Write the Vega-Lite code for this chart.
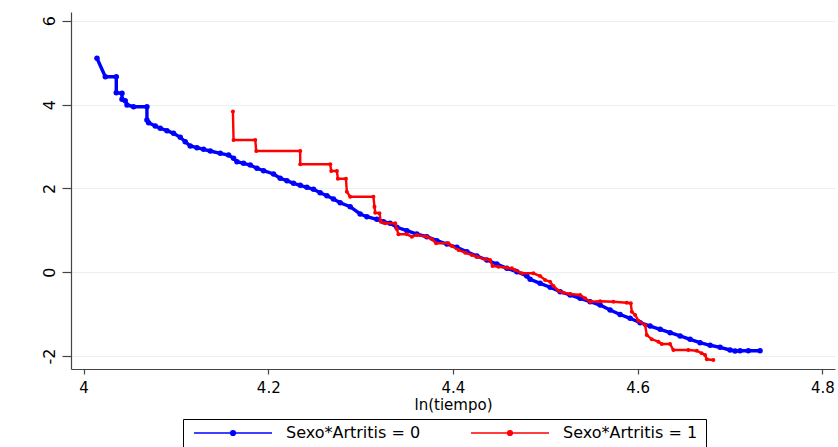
{
  "$schema": "https://vega.github.io/schema/vega-lite/v6.json",
  "width": 764,
  "height": 357,
  "autosize": {"type": "none"},
  "padding": {"left": 71, "top": 12, "right": 3, "bottom": 78},
  "background": "white",
  "config": {
    "view": {"stroke": null},
    "font": "DejaVu Sans",
    "axis": {"labelFont": "DejaVu Sans", "titleFont": "DejaVu Sans", "labelColor": "black", "titleColor": "black", "domainColor": "#444444", "tickColor": "#444444", "titleFontWeight": "normal"}
  },
  "data": {"values": [
    {"serie":"Sexo*Artritis = 0","i":1,"x":4.0145,"y":5.104},
    {"serie":"Sexo*Artritis = 0","i":2,"x":4.0235,"y":4.665},
    {"serie":"Sexo*Artritis = 0","i":3,"x":4.0354,"y":4.665},
    {"serie":"Sexo*Artritis = 0","i":4,"x":4.0354,"y":4.283},
    {"serie":"Sexo*Artritis = 0","i":5,"x":4.0416,"y":4.269},
    {"serie":"Sexo*Artritis = 0","i":6,"x":4.0416,"y":4.126},
    {"serie":"Sexo*Artritis = 0","i":7,"x":4.0451,"y":4.092},
    {"serie":"Sexo*Artritis = 0","i":8,"x":4.047,"y":3.99},
    {"serie":"Sexo*Artritis = 0","i":9,"x":4.0541,"y":3.949},
    {"serie":"Sexo*Artritis = 0","i":10,"x":4.0686,"y":3.949},
    {"serie":"Sexo*Artritis = 0","i":11,"x":4.0686,"y":3.632},
    {"serie":"Sexo*Artritis = 0","i":12,"x":4.0704,"y":3.567},
    {"serie":"Sexo*Artritis = 0","i":13,"x":4.0776,"y":3.488},
    {"serie":"Sexo*Artritis = 0","i":14,"x":4.083,"y":3.434},
    {"serie":"Sexo*Artritis = 0","i":15,"x":4.0903,"y":3.376},
    {"serie":"Sexo*Artritis = 0","i":16,"x":4.0974,"y":3.314},
    {"serie":"Sexo*Artritis = 0","i":17,"x":4.1047,"y":3.219},
    {"serie":"Sexo*Artritis = 0","i":18,"x":4.1101,"y":3.114},
    {"serie":"Sexo*Artritis = 0","i":19,"x":4.1155,"y":3.011},
    {"serie":"Sexo*Artritis = 0","i":20,"x":4.1228,"y":2.971},
    {"serie":"Sexo*Artritis = 0","i":21,"x":4.1299,"y":2.932},
    {"serie":"Sexo*Artritis = 0","i":22,"x":4.1372,"y":2.892},
    {"serie":"Sexo*Artritis = 0","i":23,"x":4.148,"y":2.837},
    {"serie":"Sexo*Artritis = 0","i":24,"x":4.157,"y":2.796},
    {"serie":"Sexo*Artritis = 0","i":25,"x":4.1624,"y":2.718},
    {"serie":"Sexo*Artritis = 0","i":26,"x":4.1661,"y":2.637},
    {"serie":"Sexo*Artritis = 0","i":27,"x":4.1732,"y":2.598},
    {"serie":"Sexo*Artritis = 0","i":28,"x":4.1805,"y":2.558},
    {"serie":"Sexo*Artritis = 0","i":29,"x":4.1877,"y":2.479},
    {"serie":"Sexo*Artritis = 0","i":30,"x":4.1949,"y":2.422},
    {"serie":"Sexo*Artritis = 0","i":31,"x":4.2057,"y":2.343},
    {"serie":"Sexo*Artritis = 0","i":32,"x":4.2129,"y":2.241},
    {"serie":"Sexo*Artritis = 0","i":33,"x":4.2202,"y":2.183},
    {"serie":"Sexo*Artritis = 0","i":34,"x":4.2273,"y":2.121},
    {"serie":"Sexo*Artritis = 0","i":35,"x":4.2346,"y":2.074},
    {"serie":"Sexo*Artritis = 0","i":36,"x":4.2418,"y":2.026},
    {"serie":"Sexo*Artritis = 0","i":37,"x":4.249,"y":1.978},
    {"serie":"Sexo*Artritis = 0","i":38,"x":4.2562,"y":1.897},
    {"serie":"Sexo*Artritis = 0","i":39,"x":4.2635,"y":1.825},
    {"serie":"Sexo*Artritis = 0","i":40,"x":4.2706,"y":1.747},
    {"serie":"Sexo*Artritis = 0","i":41,"x":4.2779,"y":1.658},
    {"serie":"Sexo*Artritis = 0","i":42,"x":4.2887,"y":1.563},
    {"serie":"Sexo*Artritis = 0","i":43,"x":4.2995,"y":1.389},
    {"serie":"Sexo*Artritis = 0","i":44,"x":4.3068,"y":1.324},
    {"serie":"Sexo*Artritis = 0","i":45,"x":4.3176,"y":1.262},
    {"serie":"Sexo*Artritis = 0","i":46,"x":4.3248,"y":1.205},
    {"serie":"Sexo*Artritis = 0","i":47,"x":4.332,"y":1.167},
    {"serie":"Sexo*Artritis = 0","i":48,"x":4.3393,"y":1.071},
    {"serie":"Sexo*Artritis = 0","i":49,"x":4.3501,"y":0.99},
    {"serie":"Sexo*Artritis = 0","i":50,"x":4.3609,"y":0.911},
    {"serie":"Sexo*Artritis = 0","i":51,"x":4.3717,"y":0.847},
    {"serie":"Sexo*Artritis = 0","i":52,"x":4.3826,"y":0.752},
    {"serie":"Sexo*Artritis = 0","i":53,"x":4.3934,"y":0.673},
    {"serie":"Sexo*Artritis = 0","i":54,"x":4.4042,"y":0.594},
    {"serie":"Sexo*Artritis = 0","i":55,"x":4.4151,"y":0.489},
    {"serie":"Sexo*Artritis = 0","i":56,"x":4.4259,"y":0.387},
    {"serie":"Sexo*Artritis = 0","i":57,"x":4.4367,"y":0.291},
    {"serie":"Sexo*Artritis = 0","i":58,"x":4.4475,"y":0.196},
    {"serie":"Sexo*Artritis = 0","i":59,"x":4.4584,"y":0.093},
    {"serie":"Sexo*Artritis = 0","i":60,"x":4.4692,"y":0.012},
    {"serie":"Sexo*Artritis = 0","i":61,"x":4.48,"y":-0.091},
    {"serie":"Sexo*Artritis = 0","i":62,"x":4.4836,"y":-0.169},
    {"serie":"Sexo*Artritis = 0","i":63,"x":4.4944,"y":-0.265},
    {"serie":"Sexo*Artritis = 0","i":64,"x":4.5053,"y":-0.36},
    {"serie":"Sexo*Artritis = 0","i":65,"x":4.5161,"y":-0.465},
    {"serie":"Sexo*Artritis = 0","i":66,"x":4.5269,"y":-0.544},
    {"serie":"Sexo*Artritis = 0","i":67,"x":4.5377,"y":-0.623},
    {"serie":"Sexo*Artritis = 0","i":68,"x":4.5486,"y":-0.704},
    {"serie":"Sexo*Artritis = 0","i":69,"x":4.5594,"y":-0.783},
    {"serie":"Sexo*Artritis = 0","i":70,"x":4.5702,"y":-0.902},
    {"serie":"Sexo*Artritis = 0","i":71,"x":4.581,"y":-1.009},
    {"serie":"Sexo*Artritis = 0","i":72,"x":4.5919,"y":-1.1},
    {"serie":"Sexo*Artritis = 0","i":73,"x":4.6027,"y":-1.205},
    {"serie":"Sexo*Artritis = 0","i":74,"x":4.6135,"y":-1.284},
    {"serie":"Sexo*Artritis = 0","i":75,"x":4.6244,"y":-1.362},
    {"serie":"Sexo*Artritis = 0","i":76,"x":4.6352,"y":-1.444},
    {"serie":"Sexo*Artritis = 0","i":77,"x":4.646,"y":-1.522},
    {"serie":"Sexo*Artritis = 0","i":78,"x":4.6568,"y":-1.601},
    {"serie":"Sexo*Artritis = 0","i":79,"x":4.6676,"y":-1.682},
    {"serie":"Sexo*Artritis = 0","i":80,"x":4.6785,"y":-1.744},
    {"serie":"Sexo*Artritis = 0","i":81,"x":4.6893,"y":-1.792},
    {"serie":"Sexo*Artritis = 0","i":82,"x":4.7001,"y":-1.856},
    {"serie":"Sexo*Artritis = 0","i":83,"x":4.7055,"y":-1.88},
    {"serie":"Sexo*Artritis = 0","i":84,"x":4.7109,"y":-1.873},
    {"serie":"Sexo*Artritis = 0","i":85,"x":4.7199,"y":-1.873},
    {"serie":"Sexo*Artritis = 0","i":86,"x":4.7326,"y":-1.873},
    {"serie":"Sexo*Artritis = 1","i":1,"x":4.1617,"y":3.834},
    {"serie":"Sexo*Artritis = 1","i":2,"x":4.1624,"y":3.154},
    {"serie":"Sexo*Artritis = 1","i":3,"x":4.1859,"y":3.154},
    {"serie":"Sexo*Artritis = 1","i":4,"x":4.187,"y":2.892},
    {"serie":"Sexo*Artritis = 1","i":5,"x":4.2346,"y":2.892},
    {"serie":"Sexo*Artritis = 1","i":6,"x":4.2346,"y":2.575},
    {"serie":"Sexo*Artritis = 1","i":7,"x":4.2671,"y":2.575},
    {"serie":"Sexo*Artritis = 1","i":8,"x":4.2682,"y":2.415},
    {"serie":"Sexo*Artritis = 1","i":9,"x":4.2743,"y":2.415},
    {"serie":"Sexo*Artritis = 1","i":10,"x":4.2754,"y":2.231},
    {"serie":"Sexo*Artritis = 1","i":11,"x":4.2841,"y":2.231},
    {"serie":"Sexo*Artritis = 1","i":12,"x":4.2851,"y":1.921},
    {"serie":"Sexo*Artritis = 1","i":13,"x":4.2887,"y":1.802},
    {"serie":"Sexo*Artritis = 1","i":14,"x":4.3139,"y":1.802},
    {"serie":"Sexo*Artritis = 1","i":15,"x":4.315,"y":1.563},
    {"serie":"Sexo*Artritis = 1","i":16,"x":4.3158,"y":1.42},
    {"serie":"Sexo*Artritis = 1","i":17,"x":4.3204,"y":1.405},
    {"serie":"Sexo*Artritis = 1","i":18,"x":4.3219,"y":1.205},
    {"serie":"Sexo*Artritis = 1","i":19,"x":4.3266,"y":1.167},
    {"serie":"Sexo*Artritis = 1","i":20,"x":4.3374,"y":1.167},
    {"serie":"Sexo*Artritis = 1","i":21,"x":4.3393,"y":1.024},
    {"serie":"Sexo*Artritis = 1","i":22,"x":4.341,"y":0.904},
    {"serie":"Sexo*Artritis = 1","i":23,"x":4.3501,"y":0.904},
    {"serie":"Sexo*Artritis = 1","i":24,"x":4.3555,"y":0.847},
    {"serie":"Sexo*Artritis = 1","i":25,"x":4.3609,"y":0.888},
    {"serie":"Sexo*Artritis = 1","i":26,"x":4.3717,"y":0.847},
    {"serie":"Sexo*Artritis = 1","i":27,"x":4.3772,"y":0.785},
    {"serie":"Sexo*Artritis = 1","i":28,"x":4.3818,"y":0.69},
    {"serie":"Sexo*Artritis = 1","i":29,"x":4.3951,"y":0.69},
    {"serie":"Sexo*Artritis = 1","i":30,"x":4.3988,"y":0.625},
    {"serie":"Sexo*Artritis = 1","i":31,"x":4.406,"y":0.53},
    {"serie":"Sexo*Artritis = 1","i":32,"x":4.4132,"y":0.465},
    {"serie":"Sexo*Artritis = 1","i":33,"x":4.4205,"y":0.41},
    {"serie":"Sexo*Artritis = 1","i":34,"x":4.4259,"y":0.37},
    {"serie":"Sexo*Artritis = 1","i":35,"x":4.4349,"y":0.308},
    {"serie":"Sexo*Artritis = 1","i":36,"x":4.4403,"y":0.291},
    {"serie":"Sexo*Artritis = 1","i":37,"x":4.4428,"y":0.148},
    {"serie":"Sexo*Artritis = 1","i":38,"x":4.4493,"y":0.131},
    {"serie":"Sexo*Artritis = 1","i":39,"x":4.4584,"y":0.107},
    {"serie":"Sexo*Artritis = 1","i":40,"x":4.4638,"y":0.093},
    {"serie":"Sexo*Artritis = 1","i":41,"x":4.4673,"y":0.052},
    {"serie":"Sexo*Artritis = 1","i":42,"x":4.4746,"y":-0.026},
    {"serie":"Sexo*Artritis = 1","i":43,"x":4.4871,"y":-0.026},
    {"serie":"Sexo*Artritis = 1","i":44,"x":4.4944,"y":-0.091},
    {"serie":"Sexo*Artritis = 1","i":45,"x":4.4998,"y":-0.186},
    {"serie":"Sexo*Artritis = 1","i":46,"x":4.5052,"y":-0.227},
    {"serie":"Sexo*Artritis = 1","i":47,"x":4.5088,"y":-0.329},
    {"serie":"Sexo*Artritis = 1","i":48,"x":4.5142,"y":-0.441},
    {"serie":"Sexo*Artritis = 1","i":49,"x":4.5196,"y":-0.489},
    {"serie":"Sexo*Artritis = 1","i":50,"x":4.5269,"y":-0.52},
    {"serie":"Sexo*Artritis = 1","i":51,"x":4.5377,"y":-0.544},
    {"serie":"Sexo*Artritis = 1","i":52,"x":4.5431,"y":-0.623},
    {"serie":"Sexo*Artritis = 1","i":53,"x":4.5485,"y":-0.704},
    {"serie":"Sexo*Artritis = 1","i":54,"x":4.5594,"y":-0.694},
    {"serie":"Sexo*Artritis = 1","i":55,"x":4.5738,"y":-0.704},
    {"serie":"Sexo*Artritis = 1","i":56,"x":4.5883,"y":-0.728},
    {"serie":"Sexo*Artritis = 1","i":57,"x":4.5926,"y":-0.742},
    {"serie":"Sexo*Artritis = 1","i":58,"x":4.5937,"y":-0.942},
    {"serie":"Sexo*Artritis = 1","i":59,"x":4.5973,"y":-1.021},
    {"serie":"Sexo*Artritis = 1","i":60,"x":4.6008,"y":-1.157},
    {"serie":"Sexo*Artritis = 1","i":61,"x":4.6081,"y":-1.267},
    {"serie":"Sexo*Artritis = 1","i":62,"x":4.6099,"y":-1.498},
    {"serie":"Sexo*Artritis = 1","i":63,"x":4.6153,"y":-1.601},
    {"serie":"Sexo*Artritis = 1","i":64,"x":4.6225,"y":-1.658},
    {"serie":"Sexo*Artritis = 1","i":65,"x":4.6261,"y":-1.713},
    {"serie":"Sexo*Artritis = 1","i":66,"x":4.6351,"y":-1.713},
    {"serie":"Sexo*Artritis = 1","i":67,"x":4.6387,"y":-1.856},
    {"serie":"Sexo*Artritis = 1","i":68,"x":4.6549,"y":-1.856},
    {"serie":"Sexo*Artritis = 1","i":69,"x":4.664,"y":-1.873},
    {"serie":"Sexo*Artritis = 1","i":70,"x":4.6694,"y":-1.935},
    {"serie":"Sexo*Artritis = 1","i":71,"x":4.673,"y":-1.976},
    {"serie":"Sexo*Artritis = 1","i":72,"x":4.6749,"y":-2.078},
    {"serie":"Sexo*Artritis = 1","i":73,"x":4.682,"y":-2.095}
  ]},
  "encoding": {
    "x": {"field": "x", "type": "quantitative",
      "scale": {"domain": [3.98636, 4.81375], "nice": false, "zero": false},
      "axis": {"title": "ln(tiempo)", "values": [4, 4.2, 4.4, 4.6, 4.8], "labelExpr": "'' + datum.value",
        "grid": false, "tickSize": 5, "labelFontSize": 15, "labelPadding": 6, "titleFontSize": 15,
        "titleY": 35, "titleBaseline": "middle", "domainWidth": 1.2, "tickWidth": 1.2}},
    "y": {"field": "y", "type": "quantitative",
      "scale": {"domain": [-2.3097, 6.2085], "nice": false, "zero": false},
      "axis": {"title": null, "values": [-2, 0, 2, 4, 6], "labelExpr": "'' + datum.value",
        "grid": true, "gridColor": "#e8f0f1", "gridWidth": 1.2, "tickSize": 9,
        "labelAngle": 270, "labelAlign": "center", "labelBaseline": "alphabetic", "labelPadding": 8,
        "labelFontSize": 16, "domainWidth": 1.2, "tickWidth": 1.2}},
    "color": {"field": "serie", "type": "nominal",
      "scale": {"domain": ["Sexo*Artritis = 0", "Sexo*Artritis = 1"], "range": ["#0000ff", "#ff0000"]},
      "legend": {"title": null, "orient": "none", "legendX": 112, "legendY": 407, "direction": "horizontal",
        "symbolType": "M-1,0H1M0.06,0A0.06,0.06,0,1,1,-0.06,0A0.06,0.06,0,1,1,0.06,0",
        "symbolSize": 6084, "symbolStrokeWidth": 1.5, "clipHeight": 12, "padding": 8, "symbolOffset": 2,
        "labelOffset": 13, "columnPadding": 47, "strokeColor": "#000000", "fillColor": "#ffffff",
        "labelFont": "DejaVu Sans", "labelFontSize": 16, "labelColor": "#000000", "labelLimit": 400}},
    "order": {"field": "i", "type": "quantitative"}
  },
  "layer": [
    {"transform": [{"filter": "datum.serie === 'Sexo*Artritis = 0'"}],
     "mark": {"type": "line", "strokeWidth": 3.4}},
    {"transform": [{"filter": "datum.serie === 'Sexo*Artritis = 0'"}],
     "mark": {"type": "point", "filled": true, "opacity": 1, "size": 30}},
    {"transform": [{"filter": "datum.serie === 'Sexo*Artritis = 1'"}],
     "mark": {"type": "line", "strokeWidth": 2.4}},
    {"transform": [{"filter": "datum.serie === 'Sexo*Artritis = 1'"}],
     "mark": {"type": "point", "filled": true, "opacity": 1, "size": 16}}
  ]
}
